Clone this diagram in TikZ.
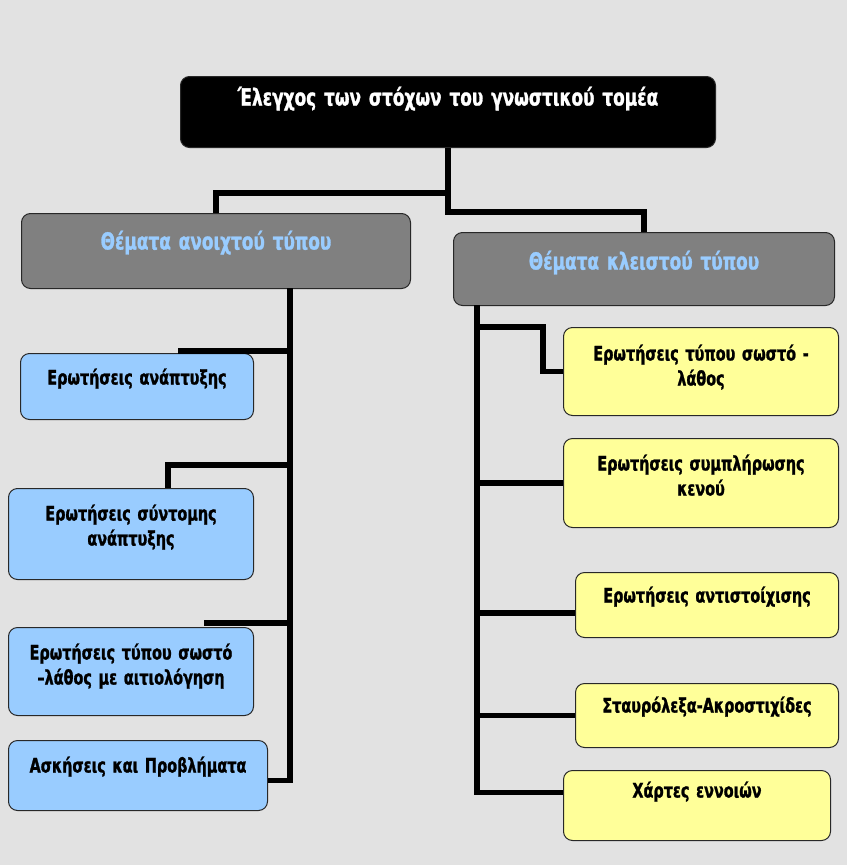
\documentclass[tikz,border=0pt]{standalone}
\usepackage{fontspec}
\setmainfont{DejaVu Sans}[FakeStretch=0.72, WordSpace=0.7, BoldFeatures={FakeBold=1.2}]
\usepackage{xcolor}
\usepackage{tikz}
\usetikzlibrary{positioning, calc}
\definecolor{marble}{RGB}{226, 226, 226}
\definecolor{headgray}{RGB}{128, 128, 128}
\definecolor{skyblue}{RGB}{153, 204, 255}
\definecolor{paleyellow}{RGB}{255, 255, 153}
\definecolor{edgegray}{RGB}{40, 40, 40}
\tikzstyle{box} = [draw=edgegray, line width=1pt, rounded corners=9pt, anchor=north west, inner xsep=4pt, inner ysep=0pt, align=center, font=\bfseries\fontsize{20}{25}\selectfont]
\tikzstyle{rootbox} = [box, fill=black, text=white, font=\bfseries\fontsize{23.5}{25}\selectfont]
\tikzstyle{kindbox} = [box, fill=headgray, text=skyblue, font=\bfseries\fontsize{23.5}{25}\selectfont]
\tikzstyle{openbox} = [box, fill=skyblue, text=black]
\tikzstyle{closedbox} = [box, fill=paleyellow, text=black]
\tikzstyle{conn} = [line width=5.5pt, black]

\begin{document}
\begin{tikzpicture}[x=1pt, y=-1pt]
    % background
    \fill[marble] (0,0) rectangle (847,865);
    \useasboundingbox (0,0) rectangle (847,865);

    % Root and the two kinds
    \node[rootbox, text width=527pt, text height=29pt, text depth=42pt] (root) at (180,76) {Έλεγχος των στόχων του γνωστικού τομέα};
    \node[kindbox, text width=381pt, text height=36pt, text depth=39pt] (open) at (21,213) {Θέματα ανοιχτού τύπου};
    \node[kindbox, text width=373pt, text height=37pt, text depth=36pt] (closed) at (453,232) {Θέματα κλειστού τύπου};

    % Left column
    \node[openbox, text width=225pt, text height=31pt, text depth=35pt] (dev) at (20,353) {Ερωτήσεις ανάπτυξης};
    \node[openbox, text width=237pt, text height=32pt, text depth=59pt] (shortdev) at (8,488) {Ερωτήσεις σύντομης\\ανάπτυξης};
    \node[openbox, text width=237pt, text height=32pt, text depth=56pt] (truejust) at (8,627) {Ερωτήσεις τύπου σωστό\\–λάθος με αιτιολόγηση};
    \node[openbox, text width=251pt, text height=32pt, text depth=38pt] (probs) at (8,740) {Ασκήσεις και Προβλήματα};

    % Right column
    \node[closedbox, text width=267pt, text height=33pt, text depth=55pt] (truefalse) at (563,327) {Ερωτήσεις τύπου σωστό -\\λάθος};
    \node[closedbox, text width=267pt, text height=32pt, text depth=57pt] (fillgap) at (563,438) {Ερωτήσεις συμπλήρωσης\\κενού};
    \node[closedbox, text width=255pt, text height=30pt, text depth=35pt] (match) at (575,572) {Ερωτήσεις αντιστοίχισης};
    \node[closedbox, text width=255pt, text height=29pt, text depth=35pt] (cross) at (575,683) {Σταυρόλεξα-Ακροστιχίδες};
    \node[closedbox, text width=259pt, text height=27pt, text depth=43pt] (cmaps) at (563,770) {Χάρτες εννοιών};

    % spines
    \coordinate (lspine) at (290,288);
    \coordinate (rspine) at (477,305);
    \coordinate (probsin) at ([yshift=-5pt]probs.east);
    \coordinate (cmapsin) at ([yshift=13pt]cmaps.west);

    % root to kinds
    \draw[conn] (root.south) -- ++(0,-64pt) -| (closed.north);
    \draw[conn] ([yshift=-45pt]root.south) -| (open.north);

    % open kind
    \draw[conn] (lspine) |- (probsin);
    \draw[conn] ([yshift=2pt]lspine |- dev.north) -- ([xshift=-76pt, yshift=2pt]dev.north east);
    \draw[conn] ([xshift=-86pt]shortdev.north east) |- ([yshift=23pt]lspine |- shortdev.north);
    \draw[conn] ([yshift=4pt]lspine |- truejust.north) -- ([xshift=-50pt, yshift=4pt]truejust.north east);

    % closed kind
    \draw[conn] (rspine) |- (cmapsin);
    \draw[conn] (truefalse.west) -- ++(-20pt,0) |- (rspine |- truefalse.north);
    \draw[conn] (rspine |- fillgap.west) -- (fillgap.west);
    \draw[conn] ([yshift=-8pt]rspine |- match.west) -- ([yshift=-8pt]match.west);
    \draw[conn] (rspine |- cross.west) -- (cross.west);
\end{tikzpicture}
\end{document}
